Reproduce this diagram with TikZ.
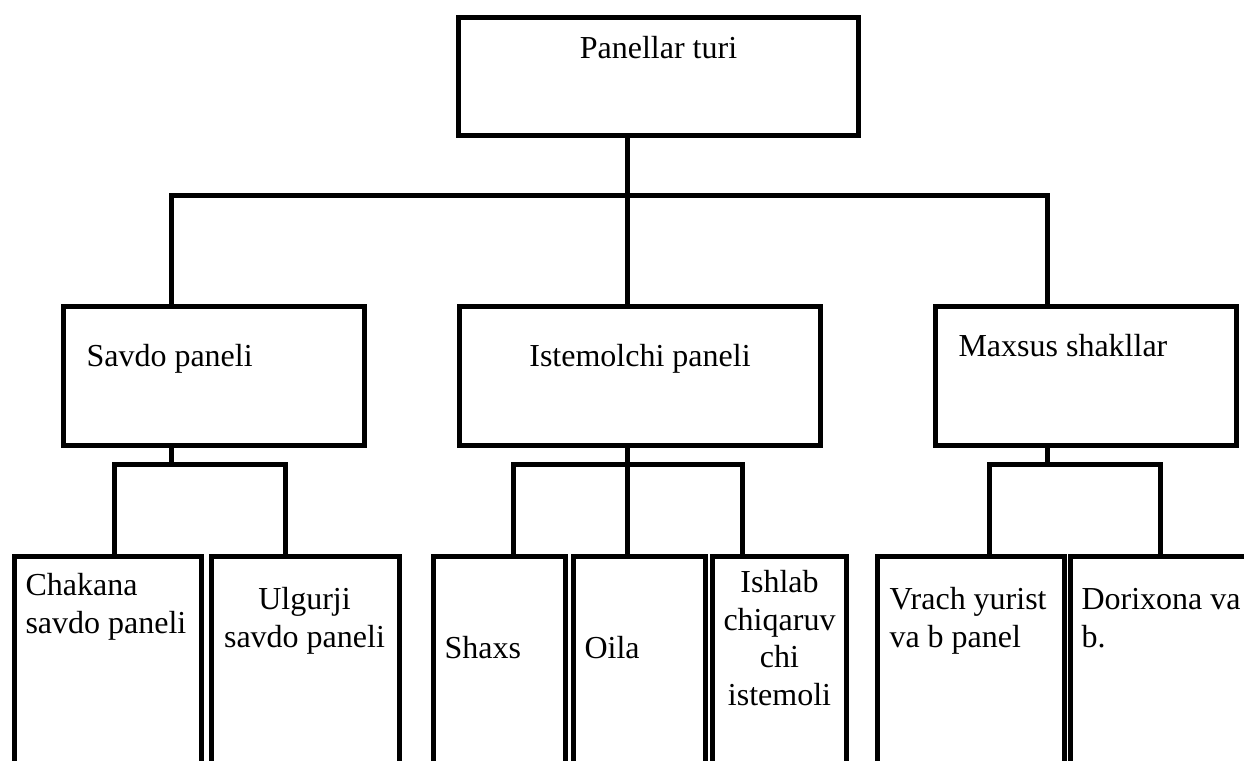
\documentclass[tikz,border=0pt]{standalone}
\usepackage{fontspec}
\setmainfont{Liberation Serif}
\begin{document}
\begin{tikzpicture}[x=1pt, y=-1pt, line width=5pt,
  box/.style={draw, rectangle, anchor=north west, inner sep=0pt},
  lbl/.style={inner sep=0pt, font=\fontsize{32}{37.5}\selectfont}]
\useasboundingbox (0,0) rectangle (1244,760);
\clip (0,0) rectangle (1244,760);
% level 0 and 1
\node[box, minimum width=400pt, minimum height=118pt] (root) at (456,15) {};
\node[box, minimum width=301pt, minimum height=139pt] (savdo) at (61,304) {};
\node[box, minimum width=361pt, minimum height=139pt] (istem) at (457,304) {};
\node[box, minimum width=301pt, minimum height=139pt] (maxsus) at (933,304) {};
% level 2 (cut off at the bottom edge)
\node[box, minimum width=187pt, minimum height=260pt] (chak) at (12,554) {};
\node[box, minimum width=188pt, minimum height=260pt] (ulg) at (209,554) {};
\node[box, minimum width=132pt, minimum height=260pt] (shaxs) at (431,554) {};
\node[box, minimum width=132pt, minimum height=260pt] (oila) at (571,554) {};
\node[box, minimum width=134pt, minimum height=260pt] (ishlab) at (710,554) {};
\node[box, minimum width=187pt, minimum height=260pt] (vrach) at (875,554) {};
\node[box, minimum width=220pt, minimum height=260pt] (dorix) at (1068,554) {};
% texts (base = last line)
\node[lbl, anchor=base] at ([shift={(0,44)}]root.north) {Panellar turi};
\node[lbl, anchor=base west] at ([shift={(23,62)}]savdo.north west) {Savdo paneli};
\node[lbl, anchor=base] at ([shift={(0,62)}]istem.north) {Istemolchi paneli};
\node[lbl, anchor=base west] at ([shift={(23,52)}]maxsus.north west) {Maxsus shakllar};
\node[lbl, anchor=base west, align=left] at ([shift={(11,79)}]chak.north west) {Chakana\\savdo paneli};
\node[lbl, anchor=base, align=center] at ([shift={(-1,93)}]ulg.north) {Ulgurji\\savdo paneli};
\node[lbl, anchor=base west] at ([shift={(11,104)}]shaxs.north west) {Shaxs};
\node[lbl, anchor=base west] at ([shift={(11,104)}]oila.north west) {Oila};
\node[lbl, anchor=base, align=center] at ([shift={(0,151)}]ishlab.north) {Ishlab\\chiqaruv\\chi\\istemoli};
\node[lbl, anchor=base west, align=left] at ([shift={(12,93)}]vrach.north west) {Vrach yurist\\va b panel};
\node[lbl, anchor=base west, align=left] at ([shift={(11,93)}]dorix.north west) {Dorixona va\\b.};
% connectors
\coordinate (hub) at (627,195);
\draw (root.south -| hub) -- (istem.north -| hub);
\draw (savdo.north -| 171,0) |- (hub) -| (maxsus.north -| 1047,0);
\coordinate (hubA) at (171,464);
\draw (savdo.south -| hubA) -- (hubA);
\draw (chak.north -| 114,0) |- (hubA) -| (ulg.north -| 285,0);
\coordinate (hubB) at (627,464);
\draw (istem.south -| hubB) -- (oila.north -| hubB);
\draw (shaxs.north -| 513,0) |- (hubB) -| (ishlab.north -| 742,0);
\coordinate (hubC) at (1047,464);
\draw (maxsus.south -| hubC) -- (hubC);
\draw (vrach.north -| 989,0) |- (hubC) -| (dorix.north -| 1160,0);
\end{tikzpicture}
\end{document}
